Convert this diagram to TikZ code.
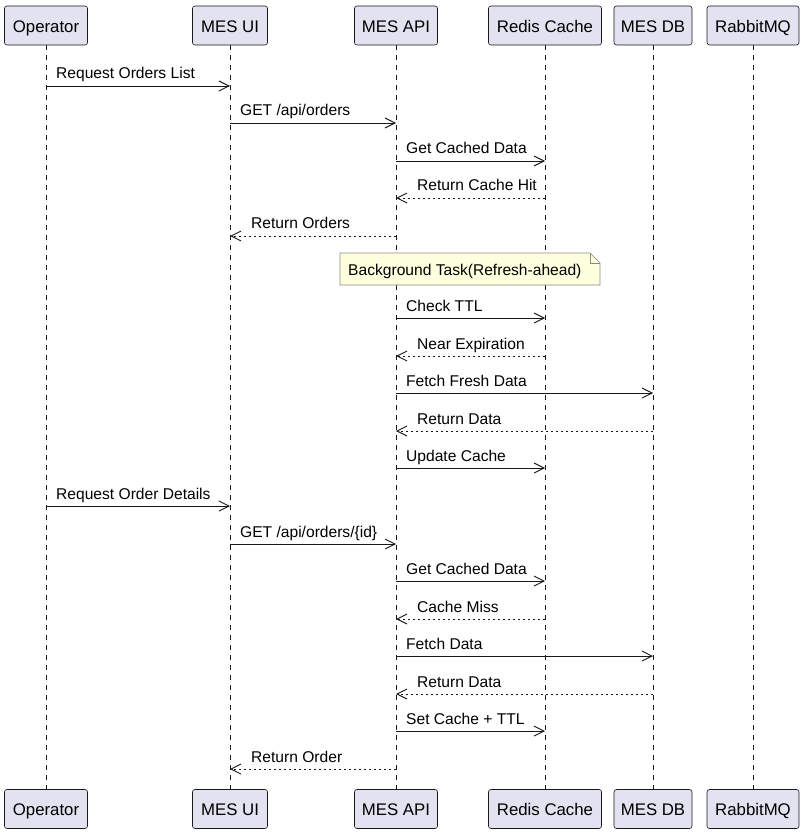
\documentclass[tikz,border=0pt]{standalone}
\usepackage{fontspec}
\setmainfont{Liberation Sans}
\usetikzlibrary{arrows.meta,calc}
\definecolor{pfill}{HTML}{E2E2F0}
\definecolor{pline}{HTML}{181818}
\definecolor{nfill}{HTML}{FEFFDD}
\definecolor{nline}{HTML}{8A8A8A}
\newcommand{\msgsolid}[5]{% name, from, to, y, label
  \draw[msgline] (#2 |- 0,#4) -- (#3 |- 0,#4);
  \node[msglabel] (#1) at ($(#2 |- 0,#4)+(10,-7)$) {#5};}
\newcommand{\msgback}[5]{% name, from, to, y, label
  \draw[msgline,retdash] (#2 |- 0,#4) -- (#3 |- 0,#4);
  \node[msglabel] (#1) at ($(#3 |- 0,#4)+(21,-7)$) {#5};}
\begin{document}
\begin{tikzpicture}[x=1pt,y=-1pt,
  part/.style={draw=pline,fill=pfill,rounded corners=2.5pt,minimum height=39pt,inner sep=0pt,text height=13.5pt,text depth=0pt,line width=0.6pt,font=\fontsize{16.8}{19}\selectfont},
  lifeline/.style={draw=pline,line width=0.6pt,dash pattern=on 5pt off 5pt},
  msgline/.style={draw=pline,line width=0.9pt,-{Straight Barb[length=10pt,width=10pt,line width=0.9pt]}},
  retdash/.style={dash pattern=on 2.5pt off 2.5pt},
  msglabel/.style={anchor=base west,inner sep=0pt,font=\fontsize{15.6}{18}\selectfont},
  notebox/.style={draw=nline,fill=nfill,line width=0.6pt}]
\useasboundingbox (0,0) rectangle (805,834);
% participants top
\node[part,minimum width=83pt] (op) at (46,25.5) {Operator};
\node[part,minimum width=75pt] (ui) at (230,25.5) {MES UI};
\node[part,minimum width=83pt] (api) at (396,25.5) {MES API};
\node[part,minimum width=113pt] (rc) at (545,25.5) {Redis Cache};
\node[part,minimum width=78pt] (db) at (653,25.5) {MES DB};
\node[part,minimum width=92pt] (mq) at (753,25.5) {RabbitMQ};
% participants bottom
\node[part,minimum width=83pt] (opb) at (46,809) {Operator};
\node[part,minimum width=75pt] (uib) at (230,809) {MES UI};
\node[part,minimum width=83pt] (apib) at (396,809) {MES API};
\node[part,minimum width=113pt] (rcb) at (545,809) {Redis Cache};
\node[part,minimum width=78pt] (dbb) at (653,809) {MES DB};
\node[part,minimum width=92pt] (mqb) at (753,809) {RabbitMQ};
% lifelines
\foreach \a/\b in {op/opb,ui/uib,api/apib,rc/rcb,db/dbb,mq/mqb}
  \draw[lifeline] (\a.south) -- (\b.north);
% messages
\msgsolid{m1}{op}{ui}{86}{Request Orders List}
\msgsolid{m2}{ui}{api}{123}{GET /api/orders}
\msgsolid{m3}{api}{rc}{161}{Get Cached Data}
\msgback{m4}{rc}{api}{198}{Return Cache Hit}
\msgback{m5}{api}{ui}{236}{Return Orders}
% note
\draw[notebox] (340,253) -- (590,253) -- (600,263) -- (600,285) -- (340,285) -- cycle;
\draw[notebox,fill=none] (590,253) -- (590,263) -- (600,263);
\node[anchor=base west,inner sep=0pt,font=\fontsize{15.6}{18}\selectfont] (note) at (348,275) {Background Task(Refresh-ahead)};
\msgsolid{m6}{api}{rc}{318}{Check TTL}
\msgback{m7}{rc}{api}{356}{Near Expiration}
\msgsolid{m8}{api}{db}{393}{Fetch Fresh Data}
\msgback{m9}{db}{api}{431}{Return Data}
\msgsolid{m10}{api}{rc}{468}{Update Cache}
\msgsolid{m11}{op}{ui}{506}{Request Order Details}
\msgsolid{m12}{ui}{api}{544}{GET /api/orders/\{id\}}
\msgsolid{m13}{api}{rc}{581}{Get Cached Data}
\msgback{m14}{rc}{api}{619}{Cache Miss}
\msgsolid{m15}{api}{db}{656}{Fetch Data}
\msgback{m16}{db}{api}{694}{Return Data}
\msgsolid{m17}{api}{rc}{731}{Set Cache + TTL}
\msgback{m18}{api}{ui}{769}{Return Order}
\end{tikzpicture}
\end{document}
